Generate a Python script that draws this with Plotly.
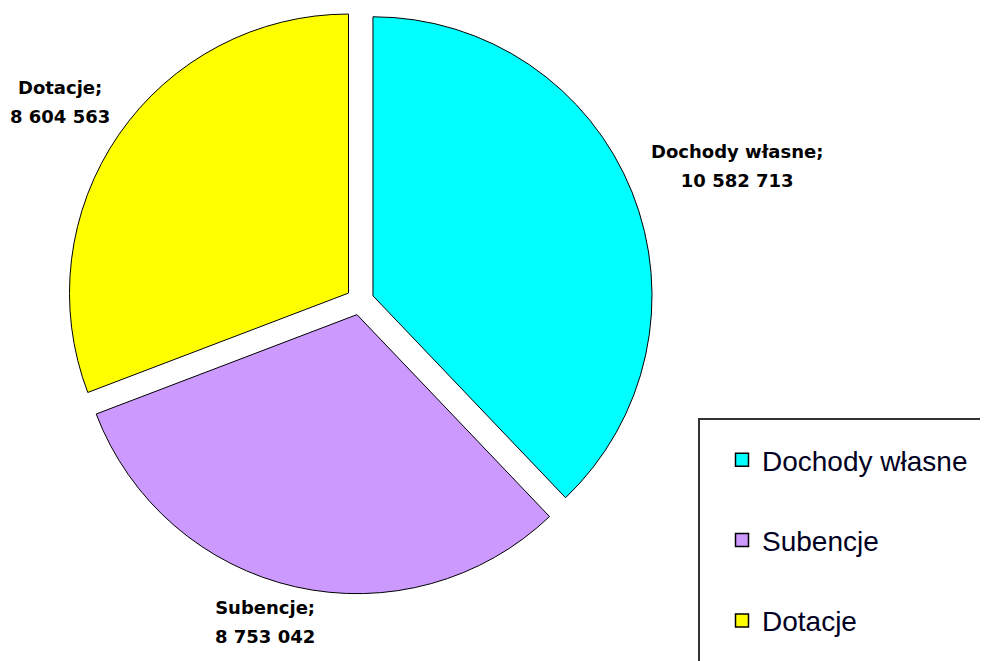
import plotly.graph_objects as go

categories = ["Dochody własne", "Subencje", "Dotacje"]
values = [10582713, 8753042, 8604563]
colors = ["#00FFFF", "#CC99FF", "#FFFF00"]

value_text = [f"{v:,}".replace(",", " ") for v in values]

W, H = 980, 653  # page adds an 8px body margin

fig = go.Figure()

fig.add_trace(go.Pie(
    labels=categories,
    values=values,
    sort=False,
    direction="clockwise",
    rotation=0,
    pull=[0.05, 0.05, 0.05],
    marker=dict(colors=colors, line=dict(color="#000000", width=1)),
    textinfo="none",
    showlegend=False,
    hoverinfo="label+value",
    domain=dict(x=[0.0602, 0.6582], y=[0.1026, 1.0]),
))

# data labels placed outside the slices
label_pos = {"Dochody własne": (729, 158), "Subencje": (257, 614), "Dotacje": (52, 94)}
for name, vt in zip(categories, value_text):
    px, py = label_pos[name]
    fig.add_annotation(
        x=px / W, y=(H - py) / H, xref="paper", yref="paper",
        xanchor="center", yanchor="middle", showarrow=False, align="center",
        text=f"<span style='font-size:18px'><b>{name};</b></span><br>"
             f"<span style='font-size:18px'><b>{vt}</b></span>",
        font=dict(family="DejaVu Sans", size=22, color="#000000"),
    )

for name, col, grp in zip(categories, colors, ["a", "b", "c"]):
    fig.add_trace(go.Scatter(
        x=[None], y=[None], mode="markers", name=name, legendgroup=grp,
        marker=dict(symbol="square", size=13, color=col,
                    line=dict(color="#000000", width=1.5)),
        hoverinfo="skip",
    ))

fig.add_shape(type="rect", xref="paper", yref="paper",
              x0=691 / W, x1=1.03, y0=-0.03, y1=(H - 411) / H,
              line=dict(color="#333333", width=2), fillcolor="rgba(0,0,0,0)")

fig.update_layout(
    width=W, height=H,
    margin=dict(l=0, r=0, t=0, b=0),
    paper_bgcolor="#FFFFFF", plot_bgcolor="#FFFFFF",
    xaxis=dict(visible=False), yaxis=dict(visible=False),
    legend=dict(
        x=714 / W, y=(H - 427) / H, xanchor="left", yanchor="top",
        font=dict(family="Liberation Sans", size=28, color="#000022"),
        bgcolor="rgba(0,0,0,0)", borderwidth=0,
        tracegroupgap=41, itemsizing="trace",
    ),
)

fig.write_html("out.html")
